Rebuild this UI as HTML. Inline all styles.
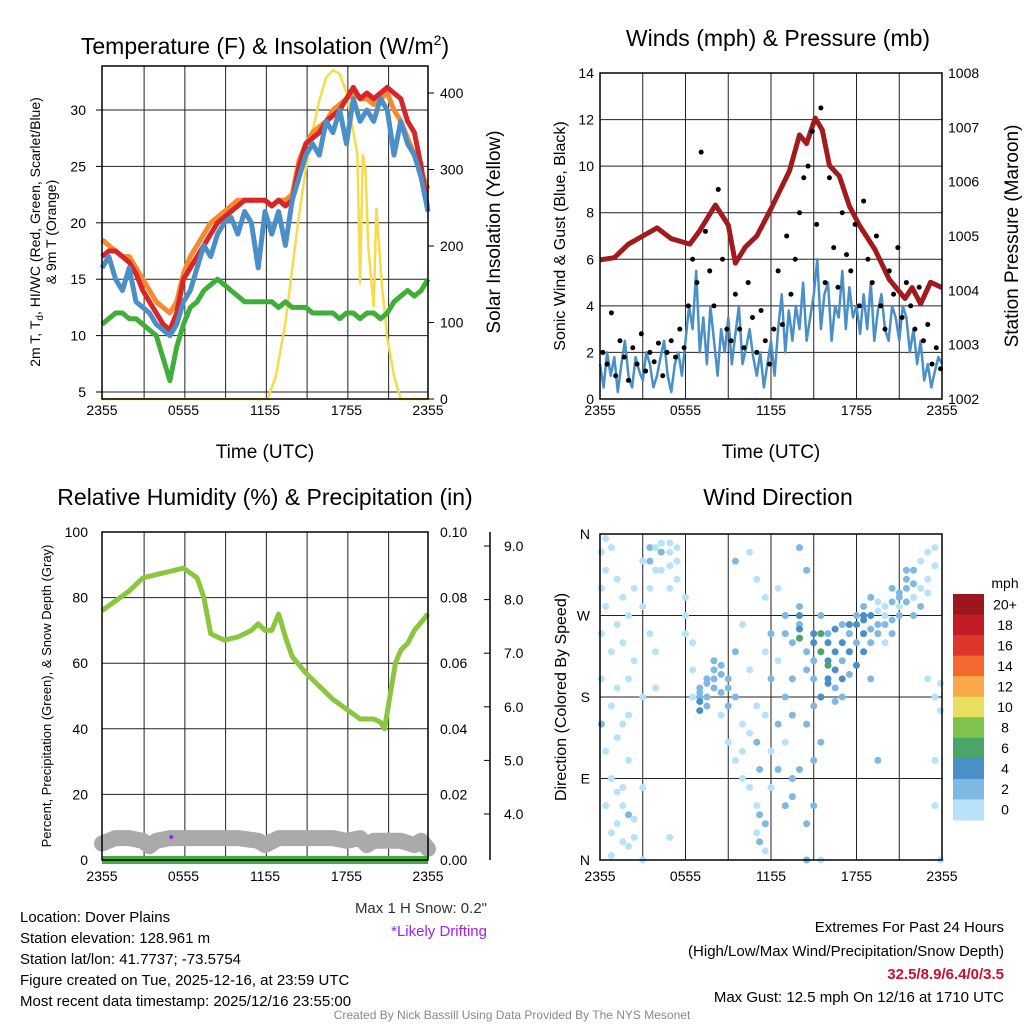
<!DOCTYPE html>
<html><head><meta charset="utf-8"><style>
html,body{margin:0;padding:0;background:#fff;}
svg{display:block;font-family:"Liberation Sans",sans-serif;}
</style></head><body>
<svg id="s" width="1024" height="1024" viewBox="0 0 1024 1024"></svg>
<script>
// ---------- Temperature panel data (hours 0..24, step 0.5) ----------
const tempRed=[17,17.5,17.5,17,16.5,15.5,14,13,12,11,10.5,12,15,16,17,18,19,20,20.5,21,21.5,22,22,22,22,21.5,22,21.5,22,25,27,27.5,28,29,29.5,30,31,32,31,31.5,31,31.5,32,31.5,31,29,28,25,21];
const tempOrange=[18.5,18,17.5,17,17,16,15,14,13,12.5,12,13,15.5,17,18,19,20,20.5,21,21.5,22,22,22,22,22,21.5,22,22,22.5,25.5,27,28,28.5,29,30,30.5,31,31.5,31,31,30.5,31,31.5,30,29,27.5,26,24.5,23];
const tempBlue=[16,17,15,14,16,13,12.5,12,11,10.5,10,11,13,14,16,18,17,19,20,20.5,19,21,20,16,21,19,21,18,22,24,26,27,26,29,28,30,27,31,29,30,29,31,30,26,29,27,26,24,21];
const tempGreen=[11,11.5,12,12,11.5,11.5,11,10.5,10,8,6,9,11,12.5,13,14,14.5,15,14.5,14,13.5,13,13,13,13,13,12.5,13,12.5,12.5,12.5,12,12,12,12,11.5,12,12,11.5,12,12,11.5,12,13,13.5,14,13.5,14,15];
const solarH=[0,12.2,12.8,13.5,14,14.5,15,15.5,16,16.5,17,17.5,18,18.5,18.8,19,19.2,19.4,19.6,20,20.2,20.4,20.6,21,21.5,22,24];
const solarV=[0,0,30,100,170,240,300,350,390,420,430,425,400,350,320,150,320,300,200,120,250,200,150,80,30,0,0];
const tempTicks=[5,10,15,20,25,30];
const solarTicks=[0,100,200,300,400];
const timeLabels=["2355","0555","1155","1755","2355"];
// ---------- Wind panel data ----------
const sonicWind=[1.5,0.5,2,1,1.8,0.3,1.5,2.5,1,0.5,1.8,1.2,0.8,2,1.5,0.5,1,1.8,2.5,1,0.3,1.5,2,1,2.5,4,3,5.5,2,3.5,1.5,4,2.5,1,3,2,3.5,1.5,2.8,4,1.5,2.2,3,1.8,1,2,0.5,1.5,2.5,1,3,4.5,2,3.8,2.5,4,3,5,2.5,3.5,4.5,6,3,4.5,5,2.5,4,3.5,5.5,3,4.8,3.5,4,2.8,4.5,3,5,2.5,3.8,4.5,3,2.5,4,3.5,2.5,4,3.5,2,3,1.5,2.5,0.8,1.5,0.5,1.2,1.8,1.5];
const gustH=[0.2,0.5,0.8,1.1,1.4,1.7,2,2.3,2.6,2.9,3.2,3.5,3.8,4.1,4.4,4.7,5,5.3,5.6,5.9,6.2,6.5,6.8,7.1,7.4,7.7,8,8.3,8.6,8.9,9.2,9.5,9.8,10.1,10.4,10.7,11,11.3,11.6,11.9,12.2,12.5,12.8,13.1,13.4,13.7,14,14.3,14.6,14.9,15.2,15.5,15.8,16.1,16.4,16.7,17,17.3,17.6,17.9,18.2,18.5,18.8,19.1,19.4,19.7,20,20.3,20.6,20.9,21.2,21.5,21.8,22.1,22.4,22.7,23,23.3,23.6,23.9];
const gustV=[2,1.5,3.7,1,2.5,1.8,0.8,2.2,1.5,2.8,1.2,2,1.6,2.4,1,2,2.5,1.8,3,2.2,4,6,5,10.6,7.2,5.5,4,9,6,3,2.5,4.5,3,2.2,5,3.5,2,3.8,2.5,1.5,3,5.5,3.2,7,4.5,6,8,9.5,10,11.5,7.5,12.5,5,9.5,6.5,4.8,8,6.2,5.5,7.5,4,8.5,6,5,7,4,3,5.5,4.5,6.5,3.5,5,4,3,4.8,2.5,3.2,1.5,2.2,1.3];
const presH=[0,1,2,3,4,5,6.3,7,8.1,9,9.5,10.2,11,12,13.3,14,14.5,15.1,15.6,16.1,16.8,17.5,18.2,19.3,20.3,21.4,21.9,22.5,23.2,24];
const presV=[1004.56,1004.6,1004.85,1005.0,1005.15,1004.95,1004.85,1005.1,1005.57,1005.2,1004.5,1004.8,1005.0,1005.5,1006.2,1006.86,1006.7,1007.17,1006.95,1006.3,1006.1,1005.55,1005.2,1004.75,1004.2,1003.85,1004.05,1003.75,1004.15,1004.05];
const windTicks=[0,2,4,6,8,10,12,14];
const presTicks=[1002,1003,1004,1005,1006,1007,1008];
// ---------- RH panel data ----------
const rhH=[0,1,2,3,4,5,6,7,7.5,8,9,10,11,11.5,12,12.5,13,13.5,14,15,16,17,18,19,20,20.5,20.8,21.2,21.6,22,22.5,23,24];
const rhV=[76,79,82,86,87,88,89,86,80,69,67,68,70,72,70,70,75,68,62,57,53,49,46,43,43,42,40,50,60,64,66,70,75];
const snowH=[0,1,2,3,3.5,4,5,6,8,10,11.5,12,13,15,17,18,19,19.5,20,21,22,23,23.5,24];
const snowV=[3.45,3.55,3.55,3.5,3.4,3.5,3.55,3.55,3.55,3.55,3.5,3.42,3.55,3.55,3.55,3.5,3.55,3.42,3.5,3.5,3.5,3.42,3.5,3.35];
const precipH=[0,24];
const precipV=[0,0];
const driftH=[5.1];
const driftV=[3.57];
const rhTicks=[0,20,40,60,80,100];
const precipTicks=["0.00","0.02","0.04","0.06","0.08","0.10"];
const snowTicks=["4.0","5.0","6.0","7.0","8.0","9.0"];
// ---------- Wind direction data ----------
const dirH=[0.1,0.1,0.1,0.1,0.1,0.4,0.4,0.4,0.4,0.4,0.8,0.8,0.8,0.8,0.8,0.8,1.2,1.2,1.2,1.2,1.2,1.2,1.6,1.6,1.6,1.6,1.6,1.6,2,2,2,2,2,2,2.4,2.4,2.4,2.4,3,3,3,3,3,3.5,3.5,3.5,3.5,3.9,3.9,3.9,3.9,4.3,4.3,4.3,4.9,4.9,4.9,4.9,4.9,5.4,5.4,5.4,6,6,6,6.5,6.5,6.5,7,7,7,7,7,7.5,7.5,7.5,7.5,8,8,8,8,8.5,8.5,8.5,8.5,9,9,9,9,9.5,9.5,9.5,9.5,10,10,10,10,10.5,10.5,10.5,10.5,11,11,11,11,11,11.2,11.2,11.2,11.6,11.6,11.6,11.6,11.6,12,12,12,12,12.5,12.5,12.5,12.5,13,13,13,13,13,13.5,13.5,13.5,13.5,13.5,14,14,14,14,14,14,14,14.5,14.5,14.5,14.5,14.5,14.5,15,15,15,15,15,15,15,15.5,15.5,15.5,15.5,15.5,15.5,16,16,16,16,16,16,16.5,16.5,16.5,16.5,16.5,17,17,17,17,17,17.5,17.5,17.5,17.5,18,18,18,18,18.5,18.5,18.5,18.5,18.5,19,19,19,19,19,19.5,19.5,19.5,19.5,19.5,20,20,20,20,20.5,20.5,20.5,20.5,21,21,21,21,21.5,21.5,21.5,21.5,22,22,22,22,22.5,22.5,22.5,23,23,23,23,23.5,23.5,23.5,23.5,23.5,23.9,23.9,23.9];
const dirDeg=[340,300,250,200,150,355,320,280,120,60,345,230,170,90,30,5,310,260,190,135,75,40,290,240,150,80,60,20,270,200,160,110,50,15,300,220,45,25,330,280,180,80,0,345,330,300,250,345,320,230,190,350,340,320,350,340,325,300,25,345,330,310,290,270,250,240,210,180,185,180,175,190,165,180,195,170,200,200,210,190,220,215,205,185,160,190,200,130,170,180,230,110,330,260,150,120,90,210,140,80,340,170,130,60,30,310,50,20,100,160,230,40,10,290,200,120,80,250,150,220,100,300,180,130,60,270,250,160,240,200,90,70,260,255,245,270,345,280,100,210,150,40,0,230,320,250,240,220,200,170,60,110,270,250,230,180,130,0,240,220,200,195,250,215,230,210,190,255,175,240,220,260,200,180,260,250,230,205,260,240,215,270,265,250,230,280,270,270,255,240,290,200,275,260,250,285,110,280,260,240,270,285,265,300,250,280,290,295,270,285,300,310,320,290,270,305,320,300,280,330,310,295,340,200,345,325,180,110,60,195,0,165];
const dirSpd=[1,1,1,1,2,1,1,1,1,1,1,1,1,1,1,1,1,1,1,1,1,1,1,1,1,1,1,1,1,1,1,1,2,1,1,1,1,1,1,1,1,1,1,2,2,1,1,1,1,1,1,1,2,1,1,1,1,1,1,1,1,1,1,1,1,1,1,1,3,3,4,2,4,3,3,2,2,2,3,3,2,2,3,2,1,3,2,1,2,2,2,1,2,1,1,1,1,1,1,1,1,1,2,1,1,1,2,2,2,1,1,2,1,1,2,1,1,2,2,1,2,1,2,1,2,2,2,2,2,2,3,3,3,5,6,5,3,3,3,2,2,3,2,2,2,4,4,2,2,3,3,3,2,6,6,4,2,1,4,5,5,4,3,6,4,4,3,4,3,4,3,3,4,3,4,3,4,3,4,3,4,3,4,4,4,3,4,4,3,2,2,2,1,2,2,1,2,1,2,1,1,2,2,3,2,1,2,3,3,2,3,2,2,1,3,2,2,1,2,1,1,1,1,1,1,1,1,1,1,1,1,1];
const barLabels=["20+","18","16","14","12","10","8","6","4","2","0"];
const barColors=["#9b161d","#c21d26","#e0352b","#f26a2e","#f9a84a","#e6e05e","#7fc24e","#4aa56b","#4a8fc7","#7fb8e2","#b8e2f8"];
const dirTicks=["N","E","S","W","N"];

const S=document.getElementById('s');
const NS='http://www.w3.org/2000/svg';
function mk(tag,at,parent){const e=document.createElementNS(NS,tag);for(const k in at)e.setAttribute(k,at[k]);(parent||S).appendChild(e);return e;}
function lin(d0,d1,r0,r1){return v=>r0+(v-d0)*(r1-r0)/(d1-d0);}
function txt(x,y,s,size,anchor,extra){const t=mk('text',Object.assign({x:x,y:y,'font-size':size,'text-anchor':anchor||'middle',fill:'#000'},extra||{}));t.textContent=s;return t;}
function poly(xs,ys,fx,fy){return xs.map((h,i)=>fx(h).toFixed(1)+','+fy(ys[i]).toFixed(1)).join(' ');}
function grid(x0,x1,y0,y1,vx,hy){
  vx.forEach(x=>{const l=mk('line',{x1:x,x2:x,y1:y0,y2:y1,stroke:'#222','stroke-width':1});
    
    });
  hy.forEach(y=>{const l=mk('line',{x1:x0,x2:x1,y1:y,y2:y,stroke:'#222','stroke-width':1});
    
    });
}
function frame(x0,x1,y0,y1,name){const r=mk('rect',{x:x0,y:y0,width:x1-x0,height:y1-y0,fill:'none',stroke:'#000','stroke-width':1.5});
  
  }
function xlabels(fx,y){timeLabels.forEach((s,i)=>{const t=txt(fx(i*6),y,s,14);
  
  });}
function rottext(x,y,s,size,name){const t=txt(0,0,s,size,'middle',{transform:'translate('+x+','+y+') rotate(-90)'});
  
  return t;}
function title(x,y,s,name){const t=txt(x,y,s,23);
  
  return t;}
const hours05=tempRed.map((v,i)=>i*0.5);

// ===== Panel 1: Temperature =====
(function(){
  const x0=102,x1=428,y0=66,y1=399;
  const fx=lin(0,24,x0,x1), fy=lin(5,30,392,110), fr=lin(0,400,399,93);
  grid(x0,x1,y0,y1,[3,6,9,12,15,18,21].map(h=>fx(h+0.1)),tempTicks.map(fy));
  tempTicks.forEach(v=>{const t=txt(86,fy(v)+5,String(v),14,'end');
    
    
    const k=mk('line',{x1:x0-6,x2:x0,y1:fy(v),y2:fy(v),stroke:'#000'});
    
    });
  solarTicks.forEach(v=>{const t=txt(440,fr(v)+5,String(v),14,'start');
    
    
    const k=mk('line',{x1:x1,x2:x1+6,y1:fr(v),y2:fr(v),stroke:'#000'});
    
    });
  const sol=mk('polyline',{points:poly(solarH,solarV,fx,fr),fill:'none',stroke:'#f4dc4a','stroke-width':2.5});
  
  
  const series=[[tempGreen,'#3fae3a','dewpoint-line'],[tempOrange,'#f58a2e','temp-9m-line'],[tempRed,'#d7262a','temp-2m-line'],[tempBlue,'#4a8fc7','windchill-line']];
  series.forEach(s=>{const p=mk('polyline',{points:poly(hours05,s[0],fx,fy),fill:'none',stroke:s[1],'stroke-width':5,'stroke-linejoin':'round'});
    
    });
  frame(x0,x1,y0,y1,'temperature-plot-frame');
  xlabels(fx,415);
  const xt=txt(265,458,'Time (UTC)',19);
  
  
  const ti=title(265,54,'Temperature (F) & Insolation (W/m',  'temperature-title');
  const sup=mk('tspan',{'font-size':14,dy:-9},ti);sup.textContent='2';
  const cl=mk('tspan',{dy:9},ti);cl.textContent=')';
  const yl=rottext(40,232,'2m T, T',14,'temp-y-axis-title');
  const sub=mk('tspan',{'font-size':10,dy:3},yl);sub.textContent='d';
  const rest=mk('tspan',{dy:-3},yl);rest.textContent=', HI/WC (Red, Green, Scarlet/Blue)';
  rottext(56,232,'& 9m T (Orange)',14,'temp-y-axis-title-line2');
  rottext(500,232,'Solar Insolation (Yellow)',19,'solar-y-axis-title');
})();

// ===== Panel 2: Winds =====
(function(){
  const x0=600,x1=942,y0=73,y1=399;
  const fx=lin(0,24,x0,x1), fy=lin(0,14,y1,y0), fp=lin(1002,1008,y1,y0);
  grid(x0,x1,y0,y1,[3,6,9,12,15,18,21].map(h=>fx(h)),windTicks.map(fy));
  windTicks.forEach(v=>{const t=txt(594,fy(v)+5,String(v),14,'end');
    
    });
  presTicks.forEach(v=>{const t=txt(948,fp(v)+5,String(v),14,'start');
    
    });
  const sh=sonicWind.map((v,i)=>i*0.25);
  const sw=mk('polyline',{points:poly(sh,sonicWind,fx,fy),fill:'none',stroke:'#4a8fc7','stroke-width':2.5,'stroke-linejoin':'round'});
  
  
  const pr=mk('polyline',{points:poly(presH,presV,fx,fp),fill:'none',stroke:'#a01a1e','stroke-width':5,'stroke-linejoin':'round'});
  
  
  gustH.forEach((h,i)=>{const c=mk('circle',{cx:fx(h),cy:fy(gustV[i]),r:2.5,fill:'#000'});
    
    });
  frame(x0,x1,y0,y1,'wind-plot-frame');
  xlabels(fx,415);
  const xt=txt(771,458,'Time (UTC)',19);
  
  
  title(778,46,'Winds (mph) & Pressure (mb)','wind-title');
  rottext(565,236,'Sonic Wind & Gust (Blue, Black)',16,'wind-y-axis-title');
  rottext(1018,236,'Station Pressure (Maroon)',19,'pressure-y-axis-title');
})();

// ===== Panel 3: RH =====
(function(){
  const x0=102,x1=428,y0=532,y1=860;
  const fx=lin(0,24,x0,x1), fy=lin(0,100,y1,y0), fs=lin(4,9,814,546);
  grid(x0,x1,y0,y1,[3,6,9,12,15,18,21].map(h=>fx(h+0.1)),rhTicks.map(fy));
  rhTicks.forEach(v=>{const t=txt(88,fy(v)+5,String(v),14,'end');
    
    });
  precipTicks.forEach((s,i)=>{const t=txt(440,fy(i*20)+5,s,14,'start');
    
    });
  const ax=mk('line',{x1:490,x2:490,y1:y0,y2:y1,stroke:'#000','stroke-width':1.5});
  
  
  snowTicks.forEach(s=>{const v=parseFloat(s);const t=txt(504,fs(v)+5,s,14,'start');
    
    
    const k=mk('line',{x1:484,x2:490,y1:fs(v),y2:fs(v),stroke:'#000'});
    
    });
  const sn=mk('polyline',{points:poly(snowH,snowV,fx,fs),fill:'none',stroke:'#aaaaaa','stroke-width':16,'stroke-linejoin':'round','stroke-linecap':'round'});
  
  
  const pc=mk('polyline',{points:poly(precipH,precipV,fx,fy),fill:'none',stroke:'#3fae3a','stroke-width':8});
  
  
  const rh=mk('polyline',{points:poly(rhH,rhV,fx,fy),fill:'none',stroke:'#8cc63f','stroke-width':5,'stroke-linejoin':'round'});
  
  
  driftH.forEach((h,i)=>{const c=mk('circle',{cx:fx(h),cy:fs(driftV[i]),r:2,fill:'#a020f0'});
    
    });
  frame(x0,x1,y0,y1,'rh-plot-frame');
  xlabels(fx,881);
  title(265,505,'Relative Humidity (%) & Precipitation (in)','rh-title');
  rottext(51,696,'Percent, Precipitation (Green), & Snow Depth (Gray)',13,'rh-y-axis-title');
})();

// ===== Panel 4: Wind direction =====
(function(){
  const x0=600,x1=942,y0=534,y1=860;
  const fx=lin(0,24,x0,x1), fy=lin(0,360,y1,y0);
  grid(x0,x1,y0,y1,[3,6,9,12,15,18,21].map(h=>fx(h)),[90,180,270].map(fy));
  dirTicks.forEach((s,i)=>{const t=txt(590,fy(i*90)+5,s,14,'end');
    
    });
  function col(sp){const b=Math.min(10,Math.floor(sp/2));return barColors[10-b];}
  dirH.forEach((h,i)=>{const c=mk('circle',{cx:fx(h),cy:fy(dirDeg[i]),r:3.5,fill:col(dirSpd[i])});
    
    });
  frame(x0,x1,y0,y1,'direction-plot-frame');
  xlabels(fx,881);
  title(778,505,'Wind Direction','direction-title');
  rottext(566,697,'Direction (Colored By Speed)',16,'direction-y-axis-title');
  const mph=txt(1005,588,'mph',14);
  
  
  const bh=(820-594)/barLabels.length;
  barLabels.forEach((s,i)=>{const r=mk('rect',{x:953,y:594+i*bh,width:31,height:bh+0.5,fill:barColors[i]});
    
    
    const t=txt(1005,594+i*bh+bh/2+5,s,14);
    
    });
})();

// ===== Footer text =====
const infoLines=["Location: Dover Plains","Station elevation: 128.961 m","Station lat/lon: 41.7737; -73.5754","Figure created on Tue, 2025-12-16, at 23:59 UTC","Most recent data timestamp: 2025/12/16 23:55:00"];
infoLines.forEach((s,i)=>{const t=txt(20,922+i*21,s,15,'start');
  
  });
const m1=txt(487,913,'Max 1 H Snow: 0.2"',15,'end',{fill:'#333'});


const m2=txt(487,936,'*Likely Drifting',15,'end',{fill:'#a020f0'});


const e1=txt(1004,932,'Extremes For Past 24 Hours',15,'end');


const e2=txt(1004,956,'(High/Low/Max Wind/Precipitation/Snow Depth)',15,'end');


const e3=txt(1004,979,'32.5/8.9/6.4/0/3.5',15,'end',{fill:'#c8102e','font-weight':'bold'});


const e4=txt(1004,1002,'Max Gust: 12.5 mph On 12/16 at 1710 UTC',15,'end');


const cr=txt(512,1019,'Created By Nick Bassill Using Data Provided By The NYS Mesonet',12,'middle',{fill:'#888'});


</script>
</body></html>
